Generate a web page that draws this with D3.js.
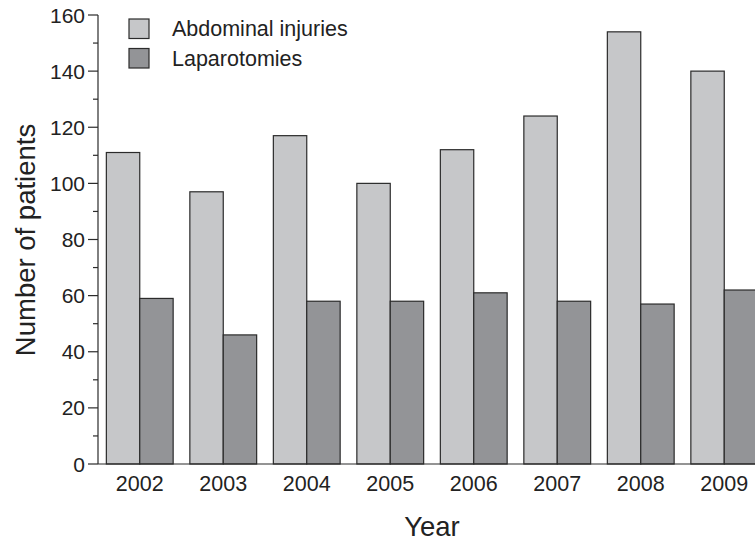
<!DOCTYPE html>
<html>
<head>
<meta charset="utf-8">
<script src="https://cdn.jsdelivr.net/npm/d3@7"></script>
<style>
  html, body { margin: 0; padding: 0; background: #fff; }
  svg { display: block; font-family: "Liberation Sans", Arial, Helvetica, sans-serif; }
</style>
</head>
<body>
<svg id="chart" width="755" height="543"></svg>
<script>
// grouped bar chart: abdominal injuries vs laparotomies per year
const years = ['2002', '2003', '2004', '2005', '2006', '2007', '2008', '2009'];
const injuries = [111, 97, 117, 100, 112, 124, 154, 140];
const laparotomies = [59, 46, 58, 58, 61, 58, 57, 62];
const seriesNames = ['Abdominal injuries', 'Laparotomies'];
const seriesColors = ['#c6c7c9', '#939497'];
const yTicks = [0, 20, 40, 60, 80, 100, 120, 140, 160];

const svg = d3.select('#chart');
const width = 755;
const height = 543;
const margin = { top: 15, left: 98, bottom: 79 };
const y0 = 464;

const x = d3.scaleBand()
  .domain(years)
  .range([margin.left, margin.left + 8 * 83.5])
  .paddingInner(0.2)
  .paddingOuter(0.1);

const xSub = d3.scaleBand()
  .domain(seriesNames)
  .range([0, x.bandwidth()]);

const y = d3.scaleLinear()
  .domain([0, 160])
  .range([y0, margin.top]);

const rows = years.map((yr, i) => ({ year: yr, values: [injuries[i], laparotomies[i]] }));

// bars
const groups = svg.append('g')
  .selectAll('g')
  .data(rows)
  .join('g')
    .attr('transform', d => `translate(${x(d.year)},0)`);

groups.selectAll('rect')
  .data(d => d.values.map((v, k) => ({ name: seriesNames[k], value: v, color: seriesColors[k] })))
  .join('rect')
    .attr('x', d => xSub(d.name))
    .attr('y', d => y(d.value))
    .attr('width', xSub.bandwidth())
    .attr('height', d => y0 - y(d.value))
    .attr('fill', d => d.color)
    .attr('stroke', '#2b2b2b')
    .attr('stroke-width', 1.2);

// y axis with minor ticks
const axisColor = '#2b2b2b';
const yAxisG = svg.append('g').attr('transform', `translate(${margin.left},0)`);
yAxisG.append('line')
  .attr('x1', 0).attr('x2', 0)
  .attr('y1', y(160)).attr('y2', y0)
  .attr('stroke', axisColor).attr('stroke-width', 1.2);

const minor = d3.range(10, 160, 20);
yAxisG.selectAll('line.minor')
  .data(minor)
  .join('line')
    .attr('class', 'minor')
    .attr('x1', -5).attr('x2', 0)
    .attr('y1', d => y(d)).attr('y2', d => y(d))
    .attr('stroke', axisColor).attr('stroke-width', 1.2);

yAxisG.selectAll('line.major')
  .data(yTicks)
  .join('line')
    .attr('class', 'major')
    .attr('x1', -10).attr('x2', 0)
    .attr('y1', d => y(d)).attr('y2', d => y(d))
    .attr('stroke', axisColor).attr('stroke-width', 1.2);

yAxisG.selectAll('text')
  .data(yTicks)
  .join('text')
    .attr('x', -13)
    .attr('y', d => y(d))
    .attr('dy', '0.36em')
    .attr('text-anchor', 'end')
    .attr('font-size', 21)
    .attr('fill', '#222')
    .text(d => d);

// x axis line
svg.append('line')
  .attr('x1', margin.left).attr('x2', width)
  .attr('y1', y0).attr('y2', y0)
  .attr('stroke', axisColor).attr('stroke-width', 1.2);

svg.append('g')
  .selectAll('text')
  .data(years)
  .join('text')
    .attr('x', d => x(d) + x.bandwidth() / 2)
    .attr('y', 491)
    .attr('text-anchor', 'middle')
    .attr('font-size', 21.5)
    .attr('fill', '#222')
    .text(d => d);

// axis titles
svg.append('text')
  .attr('x', 432)
  .attr('y', 536)
  .attr('text-anchor', 'middle')
  .attr('font-size', 27.5)
  .attr('fill', '#222')
  .text('Year');

svg.append('text')
  .attr('transform', 'translate(35,240) rotate(-90)')
  .attr('text-anchor', 'middle')
  .attr('font-size', 27.5)
  .attr('fill', '#222')
  .text('Number of patients');

// legend
const legend = svg.append('g')
  .selectAll('g')
  .data(seriesNames)
  .join('g')
    .attr('transform', (d, i) => `translate(129,${19 + i * 29.5})`);

legend.append('rect')
  .attr('width', 20).attr('height', 19.5)
  .attr('fill', (d, i) => seriesColors[i])
  .attr('stroke', '#2b2b2b')
  .attr('stroke-width', 1.2);

legend.append('text')
  .attr('x', 43)
  .attr('y', 17)
  .attr('font-size', 21.5)
  .attr('fill', '#222')
  .text(d => d);
</script>
</body>
</html>
